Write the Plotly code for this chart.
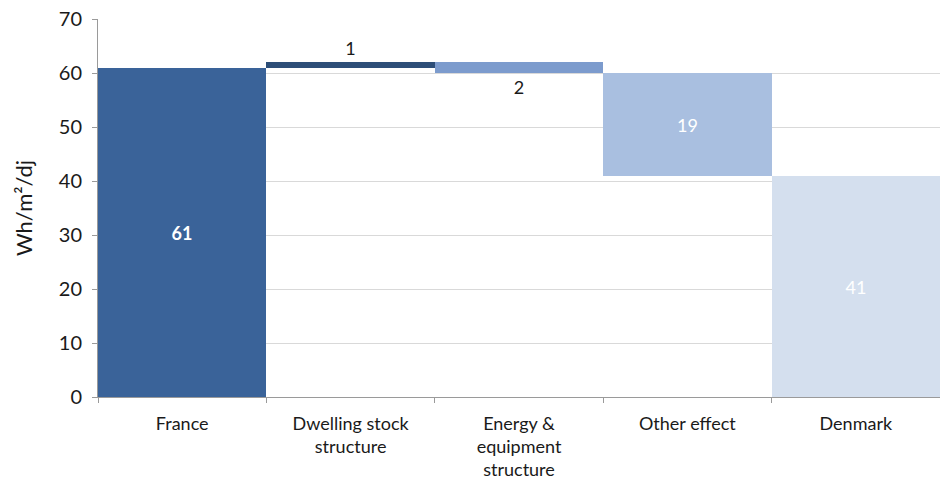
import plotly.graph_objects as go

# Waterfall: France -> effects -> Denmark (Wh/m²/dj)
categories = ["France", "Dwelling stock<br>structure", "Energy &<br>equipment<br>structure",
              "Other effect", "Denmark"]
start_value = 61
effects = [1, -2, -19]
end_value = 41
bar_colors = ["#3A6399", "#2D4E78", "#7C9BCD", "#A9BFE0", "#D4DFEE"]
label_colors = ["white", "#1a1a1a", "#1a1a1a", "white", "white"]
y_ticks = [0, 10, 20, 30, 40, 50, 60, 70]

# floating bars: each effect starts where the running total ends
bases = [0]
heights = [start_value]
running = start_value
for e in effects:
    bases.append(running)
    heights.append(e)
    running += e
bases.append(0)
heights.append(end_value)

labels = [str(abs(h)) for h in heights]
labels[0] = "<b>%s</b>" % labels[0]
positions = ["inside", "outside", "outside", "inside", "inside"]

fig = go.Figure(go.Bar(
    x=categories, y=heights, base=bases,
    marker=dict(color=bar_colors, line=dict(width=0)),
    text=labels, textposition=positions, insidetextanchor="middle",
    textfont=dict(family="Lato, sans-serif", size=18, color=label_colors),
    constraintext="none", cliponaxis=False,
))

fig.update_layout(
    width=940, height=482,
    margin=dict(l=98, r=0, t=19, b=85),
    paper_bgcolor="white", plot_bgcolor="white",
    bargap=0, showlegend=False,
    font=dict(family="Lato, sans-serif", size=18, color="#1a1a1a"),
    xaxis=dict(
        type="category", tickson="boundaries", ticks="outside", ticklen=5,
        tickcolor="#9a9a9a", showline=True, linecolor="#9a9a9a", linewidth=1,
        showgrid=False, tickfont=dict(size=18), ticklabelstandoff=10,
    ),
    yaxis=dict(
        range=[0, 70], tickvals=y_ticks, ticks="outside", ticklen=5,
        tickcolor="#9a9a9a", showline=True, linecolor="#9a9a9a", linewidth=1,
        gridcolor="#D9D9D9", gridwidth=1, zeroline=False,
        title=dict(text="Wh/m²/dj", font=dict(size=22), standoff=20),
        tickfont=dict(size=20), ticklabelstandoff=6,
    ),
)

fig.write_html("out.html")
